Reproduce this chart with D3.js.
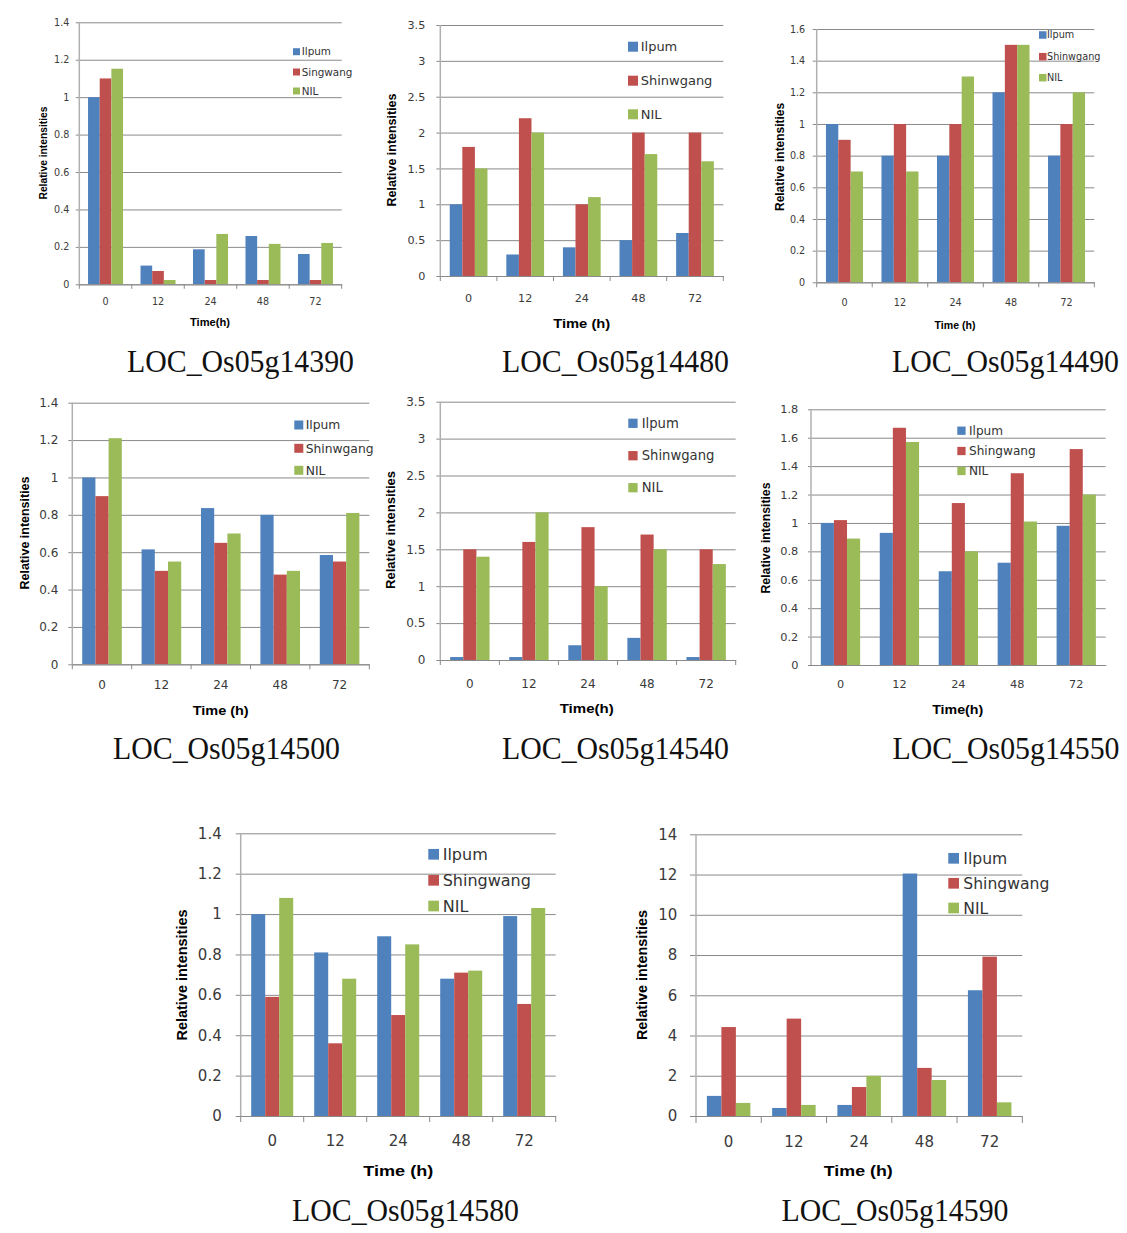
<!DOCTYPE html>
<html><head><meta charset="utf-8">
<script src="https://cdn.jsdelivr.net/npm/d3@7"></script>
<style>body{margin:0;background:#fff}svg{display:block}</style>
</head><body>
<svg id="c" width="1127" height="1233"></svg>
<script>
// ---------- DATA ----------
const categories = ["0", "12", "24", "48", "72"];
const colors = ["#4F81BD", "#C0504D", "#9BBB59"];
const geneTitles = ["LOC_Os05g14390","LOC_Os05g14480","LOC_Os05g14490","LOC_Os05g14500","LOC_Os05g14540","LOC_Os05g14550","LOC_Os05g14580","LOC_Os05g14590"];
const seriesNames = [
  ["Ilpum","Singwang","NIL"],
  ["Ilpum","Shinwgang","NIL"],
  ["Ilpum","Shinwgang","NIL"],
  ["Ilpum","Shinwgang","NIL"],
  ["Ilpum","Shinwgang","NIL"],
  ["Ilpum","Shingwang","NIL"],
  ["Ilpum","Shingwang","NIL"],
  ["Ilpum","Shingwang","NIL"]
];
const xTitles = ["Time(h)","Time (h)","Time (h)","Time (h)","Time(h)","Time(h)","Time (h)","Time (h)"];
const yTitle = "Relative intensities";

// values: [Ilpum, Shinwgang/Singwang, NIL] per time point
const v14390 = [[1.0,0.10,0.187,0.258,0.162],[1.10,0.071,0.023,0.023,0.023],[1.152,0.023,0.269,0.216,0.221]];
const v14480 = [[1.0,0.3,0.4,0.5,0.6],[1.8,2.2,1.0,2.0,2.0],[1.5,2.0,1.1,1.7,1.6]];
const v14490 = [[1.0,0.8,0.8,1.2,0.8],[0.9,1.0,1.0,1.5,1.0],[0.7,0.7,1.3,1.5,1.2]];
const v14500 = [[1.0,0.615,0.836,0.8,0.585],[0.9,0.5,0.65,0.48,0.55],[1.21,0.55,0.7,0.5,0.81]];
const v14540 = [[0.04,0.04,0.2,0.3,0.04],[1.5,1.6,1.8,1.7,1.5],[1.4,2.0,1.0,1.5,1.3]];
const v14550 = [[1.0,0.93,0.66,0.72,0.98],[1.02,1.67,1.14,1.35,1.52],[0.89,1.57,0.8,1.01,1.2]];
const v14580 = [[1.0,0.81,0.89,0.68,0.99],[0.59,0.36,0.5,0.71,0.555],[1.08,0.68,0.85,0.72,1.03]];
const v14590 = [[1.0,0.4,0.55,12.05,6.25],[4.42,4.84,1.44,2.39,7.92],[0.65,0.55,2.0,1.79,0.68]];
const panelValues = [v14390,v14480,v14490,v14500,v14540,v14550,v14580,v14590];

const ticks14 = ["0","0.2","0.4","0.6","0.8","1","1.2","1.4"];
const ticks35 = ["0","0.5","1","1.5","2","2.5","3","3.5"];
const ticks16 = ["0","0.2","0.4","0.6","0.8","1","1.2","1.4","1.6"];
const ticks18 = ["0","0.2","0.4","0.6","0.8","1","1.2","1.4","1.6","1.8"];
const ticks14int = ["0","2","4","6","8","10","12","14"];
const panelTicks = [ticks14,ticks35,ticks16,ticks14,ticks35,ticks18,ticks14,ticks14int];

// ---------- LAYOUT (positions / sizes) ----------
const layout = [
 {x0:79.3,x1:341.7,yt:22.3,yb:284.3,tickFs:9.6,gap:10,xLabY:301.5,tl:3.5,legX:293,legYs:[51.7,72,91],sq:7,legTx:301.7,legFs:10.4,xt:[210,322],xtW:40,xtFs:10.5,yT:[43,153],yTW:93,yTFs:10.3,title:[240.5,371.5]},
 {x0:440.3,x1:723.3,yt:25,yb:276,tickFs:11.2,gap:15,xLabY:298,tl:4,legX:628,legYs:[46.7,80.7,114.3],sq:10,legTx:640.7,legFs:13,xt:[581.7,323.5],xtW:57,xtFs:12.5,yT:[391.7,150],yTW:113,yTFs:12.5,title:[615.5,371.5]},
 {x0:816.7,x1:1094.3,yt:29,yb:282.3,tickFs:9.6,gap:11.5,xLabY:303,tl:4,legX:1039,legYs:[35,56.7,77.7],sq:7.5,legTx:1047,legFs:9.7,xt:[955,325],xtW:41,xtFs:11,yT:[780,157],yTW:108,yTFs:11.9,title:[1005.5,371.5]},
 {x0:72.3,x1:369.3,yt:402.7,yb:664.3,tickFs:12,gap:14,xLabY:685,tl:4,legX:294.3,legYs:[425,448.3,470.3],sq:9,legTx:305.7,legFs:12.3,xt:[220.7,710.7],xtW:56,xtFs:12.5,yT:[25,533],yTW:113,yTFs:12.5,title:[226.5,759.3]},
 {x0:440.3,x1:735.7,yt:401.7,yb:660,tickFs:12,gap:15,xLabY:683.3,tl:4,legX:628.3,legYs:[423.3,455.7,487.7],sq:9.3,legTx:641.7,legFs:13.2,xt:[586.7,709],xtW:54,xtFs:12.5,yT:[390.7,530],yTW:118,yTFs:13,title:[615.5,758.5]},
 {x0:811,x1:1105.7,yt:409.3,yb:665,tickFs:11.3,gap:12.7,xLabY:684.3,tl:3,legX:957.3,legYs:[430.7,451,471],sq:8.3,legTx:969,legFs:12.1,xt:[957.7,709.3],xtW:51,xtFs:12,yT:[766,538],yTW:111,yTFs:12.3,title:[1006,759.3]},
 {x0:240.7,x1:555.7,yt:833.3,yb:1116,tickFs:15,gap:19,xLabY:1141,tl:5,legX:428.3,legYs:[854.3,880.3,906],sq:10.7,legTx:442.7,legFs:16,xt:[398.3,1171],xtW:70,xtFs:15.5,yT:[181.7,975],yTW:131,yTFs:14.5,title:[405.5,1220.7]},
 {x0:696,x1:1022.3,yt:834.3,yb:1116,tickFs:15,gap:18.7,xLabY:1141.7,tl:6,legX:948.3,legYs:[858.3,883.3,908],sq:10.7,legTx:963.3,legFs:15.6,xt:[858.3,1171],xtW:69,xtFs:15.5,yT:[641.7,975],yTW:130,yTFs:14.4,title:[895,1220.7]}
];

const svg = d3.select("#c");
const tickFont = "'DejaVu Sans', sans-serif";
const boldFont = "'Liberation Sans', Arial, sans-serif";

panelValues.forEach((vals, i) => {
  const L = layout[i];
  const names = seriesNames[i];
  const tickLabels = panelTicks[i];
  const tickVals = tickLabels.map(Number);
  const yMax = d3.max(tickVals);
  const g = svg.append("g");

  const x = d3.scaleBand().domain(categories).range([L.x0, L.x1]).paddingInner(1/3).paddingOuter(1/6);
  const xs = d3.scaleBand().domain(names).range([0, x.bandwidth()]);
  const y = d3.scaleLinear().domain([0, yMax]).range([L.yb, L.yt]);

  // y axis with gridlines
  const ya = g.append("g").attr("transform", `translate(${L.x0},0)`)
    .call(d3.axisLeft(y).tickValues(tickVals).tickSizeInner(-(L.x1 - L.x0)).tickSizeOuter(0)
      .tickPadding(L.gap).tickFormat((d, k) => tickLabels[k]));
  ya.select(".domain").remove();
  ya.selectAll(".tick line").attr("x1", -L.tl).attr("stroke", "#8a8a8a").attr("stroke-width", 1);
  ya.selectAll(".tick text").attr("font-family", tickFont).attr("font-size", L.tickFs).attr("fill", "#3a3a3a");

  // bars
  names.forEach((s, si) => {
    g.append("g").selectAll("rect").data(vals[si]).join("rect")
      .attr("x", (d, k) => x(categories[k]) + xs(s))
      .attr("y", d => y(d))
      .attr("width", xs.bandwidth())
      .attr("height", d => y(0) - y(d))
      .attr("fill", colors[si]);
  });

  // y axis line
  g.append("line").attr("x1", L.x0).attr("x2", L.x0).attr("y1", y(yMax)).attr("y2", y(0))
    .attr("stroke", "#b0b0b0").attr("stroke-width", 1.5);

  // x axis
  const xa = g.append("g").attr("transform", `translate(0,${L.yb})`)
    .call(d3.axisBottom(x).tickSize(0).tickPadding(L.xLabY - L.yb - L.tickFs * 0.35));
  xa.select(".domain").attr("stroke", "#8a8a8a");
  xa.selectAll(".tick text").attr("font-family", tickFont).attr("font-size", L.tickFs).attr("fill", "#3a3a3a")
    .attr("dy", "0.35em").attr("y", L.xLabY - L.yb);
  const half = (x.step() - x.bandwidth()) / 2;
  const bounds = categories.map(c => x(c) - half).concat([x(categories[categories.length - 1]) + x.bandwidth() + half]);
  if (i !== 5) {
    g.append("g").selectAll("line").data(bounds).join("line")
      .attr("x1", d => d).attr("x2", d => d).attr("y1", L.yb).attr("y2", L.yb + L.tl + 1)
      .attr("stroke", "#8a8a8a");
  }

  // legend
  names.forEach((s, si) => {
    g.append("rect").attr("x", L.legX).attr("y", L.legYs[si] - L.sq / 2).attr("width", L.sq).attr("height", L.sq).attr("fill", colors[si]);
    g.append("text").attr("x", L.legTx).attr("y", L.legYs[si]).attr("dy", "0.36em")
      .attr("font-family", tickFont).attr("font-size", L.legFs).attr("fill", "#333").text(s);
  });

  // axis titles
  g.append("text").attr("x", L.xt[0]).attr("y", L.xt[1]).attr("dy", "0.35em").attr("text-anchor", "middle")
    .attr("font-family", boldFont).attr("font-weight", "bold").attr("font-size", L.xtFs)
    .attr("textLength", L.xtW).attr("lengthAdjust", "spacingAndGlyphs").text(xTitles[i]);
  g.append("text").attr("transform", `translate(${L.yT[0]},${L.yT[1]}) rotate(-90)`).attr("dy", "0.35em")
    .attr("text-anchor", "middle").attr("font-family", boldFont).attr("font-weight", "bold").attr("font-size", L.yTFs)
    .attr("textLength", L.yTW).attr("lengthAdjust", "spacingAndGlyphs").text(yTitle);

  // gene title
  g.append("text").attr("x", L.title[0]).attr("y", L.title[1]).attr("text-anchor", "middle")
    .attr("font-family", "'Liberation Serif', 'DejaVu Serif', serif").attr("font-size", 31).attr("fill", "#111")
    .attr("textLength", 227).attr("lengthAdjust", "spacingAndGlyphs").text(geneTitles[i]);
});
</script>
</body></html>
